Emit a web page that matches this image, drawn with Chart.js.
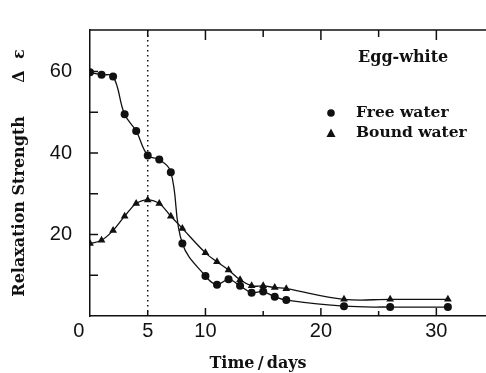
<!DOCTYPE html>
<html>
<head>
<meta charset="utf-8">
<script src="https://cdn.jsdelivr.net/npm/chart.js@4.4.0/dist/chart.umd.min.js"></script>
<style>
  body { margin: 0; background: #fff; }
  #wrap { width: 486px; height: 373px; }
</style>
</head>
<body>
<div id="wrap"><canvas id="chart1"></canvas></div>
<script>
const days = [0, 1, 2, 3, 4, 5, 6, 7, 8, 10, 11, 12, 13, 14, 15, 16, 17, 22, 26, 31];
const freeWater = [59.8, 59.2, 58.8, 49.5, 45.4, 39.4, 38.4, 35.3, 17.8, 9.8, 7.7, 9.0, 7.4, 5.7, 6.0, 4.7, 3.9, 2.4, 2.2, 2.2];
const boundWater = [17.8, 18.6, 21.0, 24.5, 27.6, 28.5, 27.6, 24.5, 21.5, 15.5, 13.3, 11.3, 8.9, 7.4, 7.4, 7.0, 6.7, 4.1, 4.1, 4.1];

const xLabelVals = [0, 5, 10, 20, 30];
const yLabelVals = [20, 40, 60];
const xTickMarks = [5, 10, 15, 20, 25, 30];
const yTickMarks = [10, 20, 30, 40, 50, 60];
const markLine = 5; // dotted line, day 5

const ink = "#111";
const serifBold = "bold 16px 'DejaVu Serif', 'Liberation Serif', serif";

function pts(ys) {
  return days.map((d, i) => ({ x: d, y: ys[i] }));
}

// extra drawing: ticks pointing in, top frame, dotted line, labels
const decor = {
  id: "decor",
  afterDraw(chart) {
    const ctx = chart.ctx;
    const a = chart.chartArea;
    const xs = chart.scales.x, ys = chart.scales.y;
    ctx.save();
    ctx.strokeStyle = ink;
    ctx.lineWidth = 1.5;
    ctx.beginPath();
    ctx.moveTo(a.left, a.top);
    ctx.lineTo(a.right, a.top);
    yTickMarks.forEach(v => {
      const p = ys.getPixelForValue(v);
      ctx.moveTo(a.left, p);
      ctx.lineTo(a.left + 8, p);
    });
    xTickMarks.forEach(v => {
      const p = xs.getPixelForValue(v);
      const len = v % 10 === 0 ? 8 : 5;
      ctx.moveTo(p, a.bottom);
      ctx.lineTo(p, a.bottom - len);
      ctx.moveTo(p, a.top);
      ctx.lineTo(p, a.top + len + 2);
    });
    ctx.stroke();

    // dotted line
    const px = xs.getPixelForValue(markLine);
    ctx.beginPath();
    ctx.setLineDash([1.5, 3.5]);
    ctx.moveTo(px, a.top);
    ctx.lineTo(px, a.bottom);
    ctx.stroke();
    ctx.setLineDash([]);

    // title and legend
    ctx.fillStyle = ink;
    ctx.font = serifBold;
    ctx.textBaseline = "middle";
    ctx.textAlign = "left";
    ctx.fillText("Egg-white", 358, 58);
    ctx.font = "bold 15.5px 'DejaVu Serif', 'Liberation Serif', serif";
    ctx.fillText("Free water", 356, 113);
    ctx.fillText("Bound water", 356, 133);
    ctx.beginPath();
    ctx.arc(331, 113, 3.8, 0, Math.PI * 2);
    ctx.fill();
    ctx.beginPath();
    ctx.moveTo(331, 128.5);
    ctx.lineTo(335.5, 137);
    ctx.lineTo(326.5, 137);
    ctx.closePath();
    ctx.fill();

    // x axis title
    ctx.font = serifBold;
    ctx.textAlign = "center";
    ctx.fillText("Time\u2009/\u2009days", 258, 364);
    ctx.restore();
  }
};

const ctx = document.getElementById("chart1").getContext("2d");
const myChart = new Chart(ctx, {
  type: "scatter",
  data: {
    datasets: [
      {
        label: "Free water",
        data: pts(freeWater),
        showLine: true,
        tension: 0.4,
        borderColor: ink,
        borderWidth: 1.3,
        backgroundColor: ink,
        pointStyle: "circle",
        pointRadius: 4,
        pointBorderWidth: 0
      },
      {
        label: "Bound water",
        data: pts(boundWater),
        showLine: true,
        tension: 0.4,
        borderColor: ink,
        borderWidth: 1.3,
        backgroundColor: ink,
        pointStyle: "triangle",
        pointRadius: 4.5,
        pointBorderWidth: 0
      }
    ]
  },
  options: {
    responsive: true,
    maintainAspectRatio: false,
    animation: false,
    layout: { autoPadding: false, padding: { top: 14, right: 0, left: 0, bottom: 0 } },
    plugins: {
      legend: { display: false },
      tooltip: { enabled: false }
    },
    scales: {
      x: {
        type: "linear",
        min: 0,
        max: 34.3,
        afterFit(scale) {
          scale.height = 57;
          scale.paddingLeft = 0;
          scale.paddingRight = 0;
        },
        afterBuildTicks(scale) { scale.ticks = xLabelVals.map(v => ({ value: v })); },
        grid: { display: false, drawTicks: false },
        border: { display: true, color: ink, width: 1.5 },
        ticks: {
          padding: 3,
          color: ink,
          autoSkip: false,
          maxRotation: 0,
          font: { family: "'Liberation Sans', Arial, sans-serif", size: 20 },
          callback: v => (v === 0 ? "0    " : String(v))
        }
      },
      y: {
        min: 0,
        max: 70.2,
        afterFit(scale) { scale.width = 90; },
        afterBuildTicks(scale) { scale.ticks = yLabelVals.map(v => ({ value: v })); },
        grid: { display: false, drawTicks: false },
        border: { display: true, color: ink, width: 1.5 },
        ticks: {
          padding: 18,
          color: ink,
          font: { family: "'Liberation Sans', Arial, sans-serif", size: 20 }
        },
        title: {
          display: true,
          text: "Relaxation Strength      \u0394  \u03b5",
          color: ink,
          padding: { top: 10, bottom: 0 },
          font: { family: "'DejaVu Serif', 'Liberation Serif', serif", size: 16, weight: "bold" }
        }
      }
    }
  },
  plugins: [decor]
});
</script>
</body>
</html>
